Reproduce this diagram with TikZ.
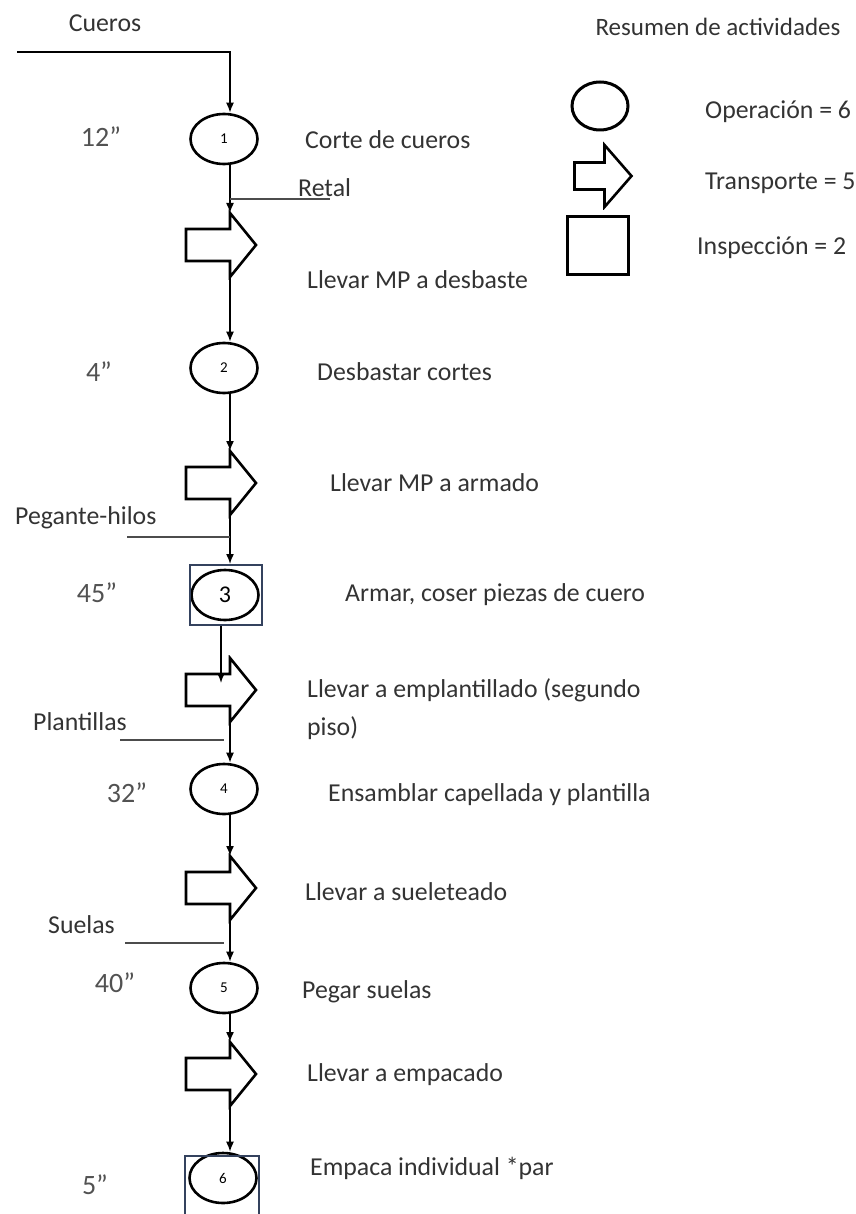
\documentclass[tikz,border=0pt]{standalone}
\usepackage{fontspec}
\setmainfont{Carlito}
\usetikzlibrary{shapes.geometric, arrows.meta, positioning}
\definecolor{txtgray}{HTML}{333333}
\definecolor{boxblue}{HTML}{34425E}
\tikzstyle{op} = [ellipse, draw=black, line width=2.6pt, minimum width=67pt, minimum height=50pt, inner sep=0pt, font=\fontsize{15}{15}\selectfont]
\tikzstyle{inspbox} = [rectangle, draw=boxblue, line width=2pt, minimum width=72pt, minimum height=60pt, inner sep=0pt]
\tikzstyle{desc} = [anchor=west, inner sep=0pt, text=txtgray, font=\fontsize{25.8}{38}\selectfont]
\tikzstyle{tlabel} = [inner sep=0pt, text=txtgray!85, font=\fontsize{28}{28}\selectfont]
\tikzstyle{flow} = [line width=1.5pt, -{Latex[length=10pt,width=8pt]}]
\tikzstyle{side} = [line width=1.5pt, draw=black!70]
% block arrow: length, head height, shaft length, shaft height
\tikzset{transport/.style n args={4}{rectangle, inner sep=0pt, outer sep=-3pt,
  minimum width=#1pt+6pt, minimum height=#2pt+6pt,
  path picture={\draw[line width=2.6pt, shift={(path picture bounding box.center)}]
    (-#1/2,-#4/2) -- (#3-#1/2,-#4/2) -- (#3-#1/2,-#2/2) -- (#1/2,0) -- (#3-#1/2,#2/2) -- (#3-#1/2,#4/2) -- (-#1/2,#4/2) -- cycle;}}}
\begin{document}
\begin{tikzpicture}[x=1pt, y=-1pt]
\useasboundingbox (0,0) rectangle (855,1214);
\coordinate (flow) at (230,0);

% legend
\node (restitle) [desc, anchor=center, font=\fontsize{25}{30}\selectfont] at (718,27) {Resumen de actividades};
\node (lgop) [op, line width=3pt, minimum width=56pt, minimum height=48pt] at (600,106) {};
\node (lgtr) [transport={57}{62}{30}{27}] at (603,176) {};
\node (lgin) [rectangle, draw=black, line width=3pt, minimum width=61pt, minimum height=58pt] at (598,246) {};
\node (lgoptxt) [desc] at (705,112) {Operación = 6};
\node (lgtrtxt) [desc] at (705,183) {Transporte = 5};
\node (lgintxt) [desc] at (697,248) {Inspección = 2};

% process
\coordinate (cin) at (17,52);
\node (cueros) [desc, anchor=center] at (105,23) {Cueros};

\node (op1) [op] at (224,139) {1};
\node (t1) [tlabel] at (101,137) {12”};
\node (d1) [desc] at (305,140) {Corte de cueros};

\coordinate (retal) at (330,199);
\node (retaltxt) [desc] at (298,188) {Retal};

\node (tr1) [transport={70}{64}{44}{32}] at (221,245) {};
\node (dt1) [desc] at (307,280) {Llevar MP a desbaste};

\node (op2) [op] at (224,368) {2};
\node (t2) [tlabel] at (99,372) {4”};
\node (d2) [desc] at (317,372) {Desbastar cortes};

\node (tr2) [transport={70}{64}{44}{32}] at (221,483) {};
\node (dt2) [desc] at (330,483) {Llevar MP a armado};

\coordinate (pegin) at (127,537);
\node (pegtxt) [desc] at (15,518) {Pegante-hilos};

\node (op3) [op, font=\fontsize{24}{24}\selectfont] at (225,595) {3};
\node (in3) [inspbox] at (226,595) {};
\node (t3) [tlabel] at (97,593) {45”};
\node (d3) [desc] at (345,595) {Armar, coser piezas de cuero};

\node (tr3) [transport={70}{64}{44}{32}] at (221,690) {};
\node (dt3) [desc, align=left] at (307,709) {Llevar a emplantillado (segundo\\piso)};

\coordinate (plin) at (120,740);
\node (pltxt) [desc] at (33,722) {Plantillas};

\node (op4) [op] at (224,789) {4};
\node (t4) [tlabel] at (127,793) {32”};
\node (d4) [desc] at (328,795) {Ensamblar capellada y plantilla};

\node (tr4) [transport={70}{64}{44}{32}] at (221,888) {};
\node (dt4) [desc] at (305,892) {Llevar a sueleteado};

\coordinate (slin) at (125,943);
\node (sltxt) [desc] at (48,925) {Suelas};

\node (op5) [op] at (224,988) {5};
\node (t5) [tlabel] at (115,983) {40”};
\node (d5) [desc] at (302,992) {Pegar suelas};

\node (tr5) [transport={70}{64}{44}{32}] at (221,1074) {};
\node (dt5) [desc] at (307,1075) {Llevar a empacado};

\node (op6) [op] at (223,1178) {6};
\node (in6) [inspbox, minimum width=74pt] at (222,1186) {};
\node (t6) [tlabel] at (95,1185) {5”};
\node (d6) [desc] at (310,1168) {Empaca individual *par};

% connectors
\draw [flow] (cin) -| (op1.north -| flow);
\draw [flow] (op1.south -| flow) -- (tr1.north -| flow);
\draw [side] (retal -| flow) -- (retal);
\draw [flow] (tr1.south -| flow) -- (op2.north -| flow);
\draw [flow] (op2.south -| flow) -- (tr2.north -| flow);
\draw [flow] (tr2.south -| flow) -- (in3.north -| flow);
\draw [side] (pegin) -- (pegin -| flow);
\draw [flow] (in3.south -| tr3) -- ([yshift=7pt]tr3.center);
\draw [flow] (tr3.south -| flow) -- (op4.north -| flow);
\draw [side] (plin) -- (plin -| op4);
\draw [flow] (op4.south -| flow) -- (tr4.north -| flow);
\draw [flow] (tr4.south -| flow) -- (op5.north -| flow);
\draw [side] (slin) -- (slin -| op5);
\draw [flow] (op5.south -| flow) -- (tr5.north -| flow);
\draw [flow] (tr5.south -| flow) -- (op6.north -| flow);
\end{tikzpicture}
\end{document}
